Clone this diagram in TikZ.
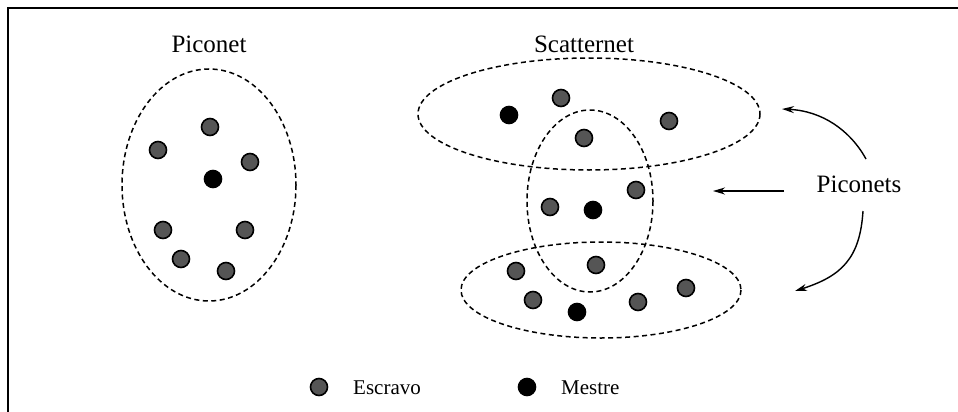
\documentclass[tikz,border=0pt]{standalone}
\usepackage{fontspec}
\setmainfont{Liberation Serif}
\usetikzlibrary{arrows.meta}
\definecolor{slavegray}{HTML}{555555}
\begin{document}
\begin{tikzpicture}[x=1pt,y=-1pt,
  slave/.style={circle,draw=black,line width=1.6pt,fill=slavegray,minimum size=17pt,inner sep=0pt},
  master/.style={circle,draw=black,line width=1.6pt,fill=black,minimum size=17pt,inner sep=0pt},
  netline/.style={draw=black,line width=1.5pt,dash pattern=on 5pt off 3.5pt},
  title/.style={font=\fontsize{25}{30}\selectfont,inner sep=0pt},
  legtext/.style={font=\fontsize{21}{25}\selectfont,inner sep=0pt,anchor=west},
  pointer/.style={line width=1.4pt,-{Stealth[length=12pt,width=7pt]}}]
\useasboundingbox (0,0) rectangle (958,412);
\fill[white] (0,0) rectangle (958,412);
\draw[line width=2pt] (8,412) -- (8,8) -- (958,8);

% Piconet
\node[title] (tpico) at (209,44) {Piconet};
\draw[netline] (209,185) ellipse [x radius=87, y radius=116];
\node[slave] (p1) at (210,127) {};
\node[slave] (p2) at (158,150) {};
\node[slave] (p3) at (250,162) {};
\node[master] (pm) at (213,179) {};
\node[slave] (p4) at (163,230) {};
\node[slave] (p5) at (245,230) {};
\node[slave] (p6) at (181,259) {};
\node[slave] (p7) at (226,271) {};

% Scatternet
\node[title] (tscat) at (584,44) {Scatternet};
\draw[netline] (589,114) ellipse [x radius=171, y radius=56];
\draw[netline] (590,201) ellipse [x radius=63, y radius=91];
\draw[netline] (601,290) ellipse [x radius=140, y radius=48];

\node[master] (am) at (509,115) {};
\node[slave] (a1) at (561,98) {};
\node[slave] (a2) at (669,121) {};
\node[slave] (a3) at (584,138) {};

\node[slave] (b1) at (636,190) {};
\node[slave] (b2) at (550,207) {};
\node[master] (bm) at (593,210) {};

\node[slave] (c1) at (596,265) {};
\node[slave] (c2) at (516,271) {};
\node[slave] (c3) at (533,300) {};
\node[master] (cm) at (577,312) {};
\node[slave] (c4) at (638,302) {};
\node[slave] (c5) at (686,288) {};

% Piconets label and arrows
\node[title] (tnets) at (859,184) {Piconets};
\coordinate (u0) at (866,159);
\coordinate (u1) at (782,109);
\coordinate (h0) at (784,191);
\coordinate (h1) at (713,191);
\coordinate (l0) at (863,211);
\coordinate (l1) at (795,291);
\draw[pointer] (u0) .. controls (850,130) and (822,111) .. (u1);
\draw[pointer] (h0) -- (h1);
\draw[pointer] (l0) .. controls (860,258) and (842,276) .. (l1);

% Legend
\node[slave] (ls) at (319,387) {};
\node[legtext] (lst) at (353,388) {Escravo};
\node[master] (lm) at (527,387) {};
\node[legtext] (lmt) at (561,388) {Mestre};
\end{tikzpicture}
\end{document}
